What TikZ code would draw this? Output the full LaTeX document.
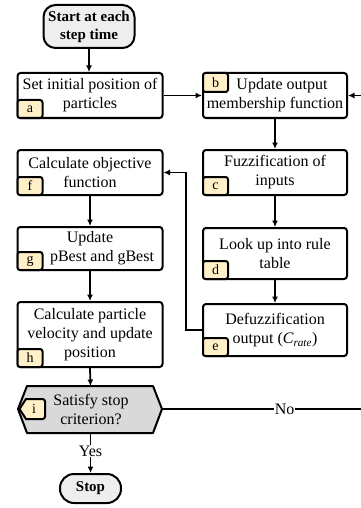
\documentclass[tikz,border=0pt]{standalone}
\usepackage{fontspec}
\setmainfont{Liberation Serif}
\usetikzlibrary{arrows.meta,calc}

\definecolor{tagfill}{HTML}{FFF0C8}
\definecolor{termfill}{HTML}{EEEEEE}
\definecolor{decfill}{HTML}{D9D9D9}

\begin{document}
\begin{tikzpicture}[x=1pt,y=-1pt,
  txt/.style={font=\fontsize{16}{19}\selectfont},
  box/.style={draw, line width=2pt, rounded corners=3pt, fill=white,
    align=center, inner sep=0pt, txt},
  term/.style={draw, line width=2pt, fill=termfill, align=center,
    inner sep=0pt, font=\bfseries\fontsize{15}{18}\selectfont},
  tag/.style={draw, line width=2pt, rounded corners=2.5pt, fill=tagfill,
    minimum width=25pt, minimum height=18pt, inner sep=0pt,
    font=\fontsize{14}{14}\selectfont},
  link/.style={line width=1.8pt},
  arr/.style={link, -{Latex[length=6.5pt,width=6pt]}},
  lbl/.style={fill=white, inner sep=1pt, txt},
]
\useasboundingbox (0,0) rectangle (360,508);

% terminals
\node[term, rounded corners=12pt, minimum width=91pt, minimum height=43pt]
  (start) at (89,26.5) {Start at each\\step time};
\node[term, rounded corners=14pt, minimum width=61pt, minimum height=29pt]
  (stop) at (90.5,488.5) {Stop};

% left column (PSO)
\node[box, minimum width=145pt, minimum height=45pt] (a) at (90,95.5)
  {Set initial position of\\particles};
\node[box, minimum width=145pt, minimum height=45pt] (f) at (90,172.5)
  {Calculate objective\\function};
\node[box, minimum width=145pt, minimum height=43pt] (g) at (90,248.5)
  {Update\\\hspace*{24pt}pBest and gBest};
\node[box, minimum width=145pt, minimum height=65pt] (h) at (90,334.5)
  {Calculate particle\\velocity and update\\position};

% right column (fuzzy controller)
\node[box, minimum width=144pt, minimum height=45pt] (b) at (275,95.5)
  {\hspace*{14pt}Update output\\membership function};
\node[box, minimum width=144pt, minimum height=45pt] (c) at (275,172.5)
  {Fuzzification of\\inputs};
\node[box, minimum width=144pt, minimum height=51pt] (d) at (275,253.5)
  {Look up into rule\\table};
\node[box, minimum width=144pt, minimum height=52pt] (e) at (275,330)
  {Defuzzification\\output (\textit{C\textsubscript{rate}})};

% step tags, tucked into a corner of each box
\node[tag, anchor=south west] (ta) at (a.south west) {a};
\node[tag, anchor=north west, minimum height=19pt] (tb) at (b.north west) {b};
\node[tag, anchor=south west] (tc) at (c.south west) {c};
\node[tag, anchor=south west] (td) at (d.south west) {d};
\node[tag, anchor=south west] (te) at (e.south west) {e};
\node[tag, anchor=south west] (tf) at (f.south west) {f};
\node[tag, anchor=south west] (tg) at (g.south west) {g};
\node[tag, anchor=south west] (th) at (h.south west) {h};

% decision
\coordinate (iL) at (18,409);
\coordinate (iR) at (162,409);
\coordinate (iT) at (90.5,386);
\coordinate (iB) at (90.5,433);
\draw[line width=2pt, fill=decfill, line join=round]
  (iL) -- (27,386) -- (153,386) -- (iR) -- (153,433) -- (27,433) -- cycle;
\node[txt, align=center] (i) at (91,409) {Satisfy stop\\criterion?};
\draw[line width=2pt, fill=tagfill, rounded corners=2.5pt]
  (19.5,409) [sharp corners] -- (26,399) [rounded corners=2.5pt] -- (45,399)
  -- (45,419) [sharp corners] -- (26,419) -- cycle;
\node[font=\fontsize{14}{14}\selectfont] (ti) at (34,409) {i};

% connectors
\draw[arr] (start.south) -- (start.south |- a.north);
\draw[arr] (a.east) -- (b.west);
\draw[arr] (b.south) -- (c.north);
\draw[arr] (c.south) -- (d.north);
\draw[arr] (d.south) -- (e.north);
\draw[arr] (e.west) -- ++(-16,0) |- (f.east);
\draw[arr] (f.south) -- (g.north);
\draw[arr] (g.south) -- (h.north);
\draw[arr] (h.south) -- (iT);
\coordinate (loop) at (378,409);
\draw[arr] (iR) -- node[lbl, pos=0.568] {No} (loop) |- (b.east);
\draw[arr] (iB) -- node[lbl, pos=0.45] {Yes} (stop.north);
\end{tikzpicture}
\end{document}
